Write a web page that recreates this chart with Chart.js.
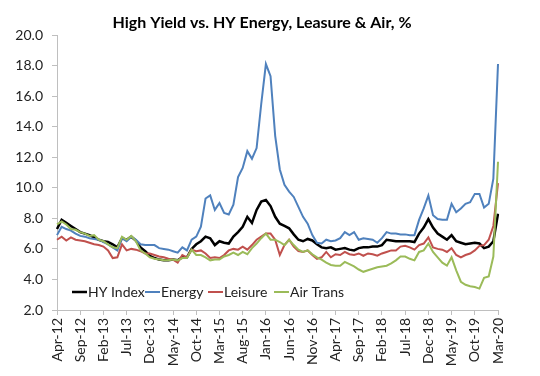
<!DOCTYPE html>
<html lang="en">
<head>
    <meta charset="UTF-8">
    <title>High Yield vs. HY Energy, Leasure & Air</title>
    <script src="https://cdn.jsdelivr.net/npm/chart.js"></script>
    <style>
        body {
            margin: 0;
            background-color: #fff;
        }
        #chart {
            display: block;
        }
    </style>
</head>
<body>
    <canvas id="chart" width="540" height="376"></canvas>

    <script>
        // monthly, Apr-12 .. Mar-20
        const monthNames = ['Jan', 'Feb', 'Mar', 'Apr', 'May', 'Jun', 'Jul', 'Aug', 'Sep', 'Oct', 'Nov', 'Dec'];
        const categories = [];
        for (let k = 0; k < 96; k++) {
            const m = (3 + k) % 12;
            const yr = 12 + Math.floor((3 + k) / 12);
            categories.push(monthNames[m] + '-' + yr);
        }

        const hyIndex = [
            7.3, 7.9, 7.7, 7.5, 7.3, 7.1, 7.0, 6.9, 6.75, 6.6, 6.5, 6.45,
            6.3, 6.1, 6.7, 6.6, 6.8, 6.55, 6.1, 5.85, 5.55, 5.4, 5.3, 5.25,
            5.25, 5.3, 5.25, 5.45, 5.45, 6.0, 6.3, 6.5, 6.8, 6.7, 6.25, 6.5,
            6.4, 6.35, 6.8, 7.1, 7.45, 8.1, 7.7, 8.55, 9.1, 9.2, 8.8, 8.1,
            7.65, 7.5, 7.35, 6.95, 6.6, 6.5, 6.65, 6.55, 6.3, 6.1, 6.05, 6.1,
            5.95, 6.0, 6.05, 5.95, 5.9, 6.05, 6.1, 6.1, 6.15, 6.15, 6.25, 6.6,
            6.55, 6.5, 6.5, 6.5, 6.5, 6.45, 7.0, 7.4, 7.95, 7.4, 7.0, 6.8,
            6.6, 6.9, 6.5, 6.4, 6.3, 6.35, 6.4, 6.35, 6.05, 6.15, 6.5, 8.3
        ];
        const energy = [
            6.9, 7.45, 7.3, 7.2, 7.0, 6.85, 6.8, 6.7, 6.65, 6.6, 6.45, 6.3,
            6.1, 5.9, 6.7, 6.5, 6.8, 6.6, 6.3, 6.25, 6.25, 6.25, 6.05, 6.0,
            5.95, 5.85, 5.75, 6.1, 5.9, 6.6, 6.8, 7.45, 9.3, 9.5, 8.55, 9.0,
            8.35, 8.25, 8.9, 10.7, 11.3, 12.4, 11.9, 12.6, 15.5, 18.1, 17.3, 13.4,
            11.2, 10.2, 9.75, 9.4, 8.75, 8.1, 7.65, 6.9, 6.4, 6.35, 6.6, 6.5,
            6.55, 6.7, 7.1, 6.9, 7.1, 6.6, 6.7, 6.65, 6.6, 6.4, 6.7, 7.1,
            7.0, 7.0, 6.95, 6.95, 6.9, 6.9, 7.9, 8.65, 9.5, 8.2, 7.95, 7.9,
            7.9, 8.95, 8.4, 8.65, 8.95, 9.05, 9.6, 9.6, 8.7, 8.95, 10.6, 18.1
        ];
        const leisure = [
            6.6, 6.8, 6.55, 6.75, 6.6, 6.55, 6.5, 6.4, 6.3, 6.25, 6.15, 5.9,
            5.4, 5.45, 6.3, 5.9, 6.0, 5.95, 5.85, 5.7, 5.7, 5.6, 5.5, 5.45,
            5.35, 5.3, 5.1, 5.6, 5.45, 5.95, 5.85, 5.9, 5.7, 5.4, 5.45, 5.4,
            5.6, 5.9, 6.0, 5.95, 6.15, 5.95, 6.25, 6.6, 6.8, 7.0, 7.0, 6.6,
            5.6, 6.25, 6.6, 6.15, 5.85, 5.8, 5.9, 5.6, 5.35, 5.45, 5.8, 5.45,
            5.65, 5.6, 5.8, 5.65, 5.6, 5.7, 5.55, 5.7, 5.65, 5.55, 5.7, 5.8,
            5.9, 5.9, 6.15, 6.2, 6.1, 5.95, 6.25, 6.35, 6.75, 6.1, 6.0, 5.95,
            5.8, 6.05, 5.6, 5.45, 5.6, 5.7, 5.9, 6.2, 6.25, 6.6, 7.5, 10.3
        ];
        const airTrans = [
            7.6, 7.8, 7.6, 7.3, 7.25, 7.1, 7.0, 6.85, 6.9, 6.6, 6.5, 6.3,
            6.1, 6.05, 6.8, 6.6, 6.85, 6.5, 5.9, 5.7, 5.45, 5.35, 5.3, 5.25,
            5.25, 5.3, 5.25, 5.4, 5.4, 5.95, 5.6, 5.6, 5.45, 5.25, 5.3, 5.3,
            5.5, 5.6, 5.75, 5.6, 5.8, 5.65, 6.05, 6.35, 6.7, 7.0, 6.6, 6.6,
            6.45, 6.25, 6.6, 6.25, 5.95, 5.8, 5.9, 5.65, 5.45, 5.3, 5.1, 4.95,
            4.9, 4.9, 5.15, 5.0, 4.85, 4.65, 4.5, 4.6, 4.7, 4.8, 4.85, 4.9,
            5.05, 5.25, 5.5, 5.5, 5.35, 5.25, 5.8, 5.9, 6.35, 5.8, 5.45, 5.1,
            4.9, 5.45, 4.6, 3.85, 3.65, 3.55, 3.5, 3.4, 4.1, 4.2, 5.5, 11.7
        ];

        const seriesNames = ['HY Index', 'Energy', 'Leisure', 'Air Trans'];
        const seriesColors = ['#000000', '#4f81bd', '#c0504d', '#9bbb59'];
        const yTicks = [2, 4, 6, 8, 10, 12, 14, 16, 18, 20];

        const font = 'Lato, "Open Sans", sans-serif';

        // title + legend inside the plot, drawn like the spreadsheet version
        const decorations = {
            id: 'decorations',
            afterDraw(chart) {
                const ctx = chart.ctx;
                ctx.save();
                ctx.fillStyle = '#000';
                ctx.font = 'bold 16px ' + font;
                ctx.textAlign = 'center';
                ctx.textBaseline = 'middle';
                ctx.fillText('High Yield vs. HY Energy, Leasure & Air, %', 262, 23);

                const starts = [72, 145, 208, 274];
                const y = 292;
                ctx.font = '14px ' + font;
                ctx.textAlign = 'left';
                chart.data.datasets.forEach((ds, i) => {
                    ctx.strokeStyle = ds.borderColor;
                    ctx.lineWidth = ds.borderWidth;
                    ctx.beginPath();
                    ctx.moveTo(starts[i], y);
                    ctx.lineTo(starts[i] + 15, y);
                    ctx.stroke();
                    ctx.fillStyle = '#222';
                    ctx.fillText(ds.label, starts[i] + 16, y);
                });
                ctx.restore();
            }
        };

        const ctx = document.getElementById('chart').getContext('2d');
        const series = [hyIndex, energy, leisure, airTrans];
        new Chart(ctx, {
            type: 'line',
            data: {
                labels: categories,
                datasets: series.map((vals, i) => ({
                    label: seriesNames[i],
                    data: vals,
                    borderColor: seriesColors[i],
                    borderWidth: i === 0 ? 2.5 : 2,
                    pointRadius: 0,
                    tension: 0,
                    fill: false,
                    order: 4 - i
                }))
            },
            options: {
                responsive: false,
                animation: false,
                layout: {
                    padding: { top: 35, right: 42, left: 0, bottom: 0 }
                },
                plugins: {
                    legend: { display: false },
                    title: { display: false },
                    tooltip: { enabled: false }
                },
                scales: {
                    x: {
                        grid: {
                            drawOnChartArea: false,
                            drawTicks: true,
                            tickLength: 5,
                            color: '#bfbfbf'
                        },
                        border: { color: '#bfbfbf' },
                        ticks: {
                            autoSkip: false,
                            maxRotation: 90,
                            minRotation: 90,
                            padding: 3,
                            color: '#222',
                            font: { family: font, size: 14 },
                            callback: (val, idx) => idx % 5 === 0 ? categories[idx] : null
                        },
                        afterFit: (scale) => { scale.height = 66; }
                    },
                    y: {
                        min: yTicks[0],
                        max: yTicks[yTicks.length - 1],
                        afterBuildTicks: (scale) => {
                            scale.ticks = yTicks.map(v => ({ value: v }));
                        },
                        grid: {
                            drawOnChartArea: false,
                            drawTicks: true,
                            tickLength: 5,
                            color: '#bfbfbf'
                        },
                        border: { color: '#bfbfbf' },
                        ticks: {
                            padding: 9,
                            color: '#222',
                            font: { family: font, size: 14 },
                            callback: (val) => Number(val).toFixed(1)
                        },
                        afterFit: (scale) => { scale.width = 57; }
                    }
                }
            },
            plugins: [decorations]
        });
    </script>
</body>
</html>
